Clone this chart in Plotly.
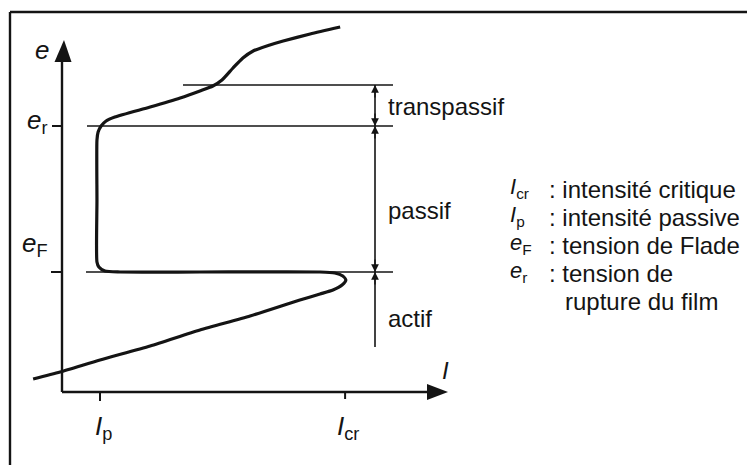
import plotly.graph_objects as go

# Polarisation curve e = f(I) of a passivable metal (arbitrary units)
current_I = [-0.76, -0.05, 1.00, 2.32, 3.63, 4.95, 6.26, 6.79, 7.13, 7.37, 7.47, 7.39,
             7.18, 6.79, 3.63, 1.53, 1.13, 0.97, 0.92, 0.92, 0.92, 0.95, 1.03, 1.16,
             1.39, 2.32, 3.11, 3.63, 3.97, 4.21, 4.50, 4.76, 5.03, 5.47, 5.82, 6.53, 7.32]
potential_e = [0.13, 0.20, 0.32, 0.46, 0.62, 0.76, 0.92, 0.98, 1.02, 1.07, 1.12, 1.16,
               1.19, 1.20, 1.20, 1.20, 1.21, 1.25, 1.30, 1.92, 2.52, 2.60, 2.66, 2.71,
               2.75, 2.85, 2.94, 3.01, 3.06, 3.12, 3.24, 3.34, 3.41, 3.47, 3.51, 3.58, 3.65]

# Characteristic values
I_p = 1.00      # passive current
I_cr = 7.45     # critical current
e_F = 1.20      # Flade potential
e_r = 2.66      # film breakdown potential
e_t = 3.07      # upper end of the transpassive zone
e_low = 0.45    # lower end of the active zone marker

zone_names = ["transpassif", "passif", "actif"]
zone_label_e = [2.86, 1.82, 0.74]

legend_symbols = ["<i>I</i><sub>cr</sub>", "<i>I</i><sub>p</sub>",
                  "<i>e</i><sub>F</sub>", "<i>e</i><sub>r</sub>"]
legend_texts = [": intensité critique", ": intensité passive",
                ": tension de Flade", ": tension de"]
legend_extra = "rupture du film"

W, H = 747, 465
PX_I, PX_E = 38.0, 100.0          # pixels per unit on each axis
ORIG_X, ORIG_Y = 62, 392          # pixel position of the origin
x_range = [-ORIG_X / PX_I, (W - ORIG_X) / PX_I]
y_range = [-(H - ORIG_Y) / PX_E, ORIG_Y / PX_E]

def dx(p):
    return p / PX_I

def dy(p):
    return p / PX_E

INK = "#141414"
FONT = "Liberation Sans, Arial, sans-serif"

fig = go.Figure()
fig.add_trace(go.Scatter(x=current_I, y=potential_e, mode="lines",
                         line=dict(color=INK, width=3.2, shape="spline", smoothing=0.6),
                         hoverinfo="skip", showlegend=False))

shapes = []
def seg(x0, y0, x1, y1, w=1.6):
    shapes.append(dict(type="line", xref="x", yref="y", x0=x0, y0=y0, x1=x1, y1=y1,
                       line=dict(color=INK, width=w)))

# axes
y_tip, y_base = y_range[1] - dy(40), y_range[1] - dy(62)
x_tip, x_base = dx(386), dx(365)
seg(0, 0, 0, y_base, 2.4)
seg(0, 0, x_base, 0, 2.4)
shapes.append(dict(type="path", xref="x", yref="y", fillcolor=INK, line=dict(width=0),
                   path=f"M {-dx(7.5)},{y_base} L {dx(2)},{y_tip} L {dx(9.5)},{y_base} Z"))
shapes.append(dict(type="path", xref="x", yref="y", fillcolor=INK, line=dict(width=0),
                   path=f"M {x_base},{-dy(8)} L {x_tip},0 L {x_base},{dy(8)} Z"))

# ticks
seg(I_p, 0, I_p, -dy(9), 2)
seg(I_cr, 0, I_cr, -dy(7), 2)
seg(-dx(10), e_r, 0, e_r, 2)
seg(-dx(11), e_F, 0, e_F, 2)

# reference levels
right_end = dx(393 - ORIG_X)
seg(dx(87 - ORIG_X), e_r, right_end, e_r, 1.6)
seg(dx(86 - ORIG_X), e_F, right_end, e_F, 1.6)
seg(dx(183 - ORIG_X), e_t, right_end, e_t, 1.6)

# zone marker
x_dim = dx(375 - ORIG_X)
seg(x_dim, e_t, x_dim, e_low, 1.6)

# frame
shapes.append(dict(type="line", xref="paper", yref="paper", x0=10 / W, x1=10 / W,
                   y0=0, y1=1 - 12 / H, line=dict(color=INK, width=2.4)))
shapes.append(dict(type="line", xref="paper", yref="paper", x0=10 / W, x1=1,
                   y0=1 - 12 / H, y1=1 - 12 / H, line=dict(color=INK, width=2.4)))

annotations = []
def arrow(e_head, up):
    annotations.append(dict(x=x_dim, y=e_head, xref="x", yref="y", text="",
                            showarrow=True, arrowhead=2, arrowsize=1.1, arrowwidth=1.4,
                            arrowcolor=INK, ax=0, ay=14 if up else -14))

arrow(e_t, True)
arrow(e_r, False)
arrow(e_r, True)
arrow(e_F, False)
arrow(e_F, True)

def text(x, y, s, size=24, xanchor="center", ref="data"):
    r = ("x", "y") if ref == "data" else ("paper", "paper")
    annotations.append(dict(x=x, y=y, xref=r[0], yref=r[1], text=s, showarrow=False,
                            xanchor=xanchor, yanchor="middle",
                            font=dict(family=FONT, size=size, color=INK)))

# zone names
for name, ev in zip(zone_names, zone_label_e):
    text(dx(386 - ORIG_X), ev, name, xanchor="left")

# axis labels
text(-dx(20), y_range[1] - dy(50), "<i>e</i>", size=26)
text(-dx(12), e_r + dy(5), "<i>e</i><sub>r</sub>", size=26, xanchor="right")
text(-dx(12), e_F + dy(28), "<i>e</i><sub>F</sub>", size=26, xanchor="right")
text(dx(445 - ORIG_X), dy(22), "<i>I</i>", size=24)
text(I_p + dx(3), -dy(35), "<i>I</i><sub>p</sub>", size=26)
text(I_cr + dx(3), -dy(35), "<i>I</i><sub>cr</sub>", size=26)

# legend
row_y = [189, 217, 245, 273]
for sym, txt, ry in zip(legend_symbols, legend_texts, row_y):
    text(508 / W, 1 - (ry - 1) / H, sym, size=22, xanchor="left", ref="paper")
    text(547 / W, 1 - ry / H, txt, size=24, xanchor="left", ref="paper")
text(563 / W, 1 - 301 / H, legend_extra, size=24, xanchor="left", ref="paper")

fig.update_layout(
    width=W, height=H, autosize=False,
    margin=dict(l=0, r=0, t=0, b=0),
    paper_bgcolor="white", plot_bgcolor="white",
    xaxis=dict(range=x_range, visible=False, fixedrange=True),
    yaxis=dict(range=y_range, visible=False, fixedrange=True),
    shapes=shapes, annotations=annotations, showlegend=False,
)

fig.write_html("out.html", config=dict(displayModeBar=False))
